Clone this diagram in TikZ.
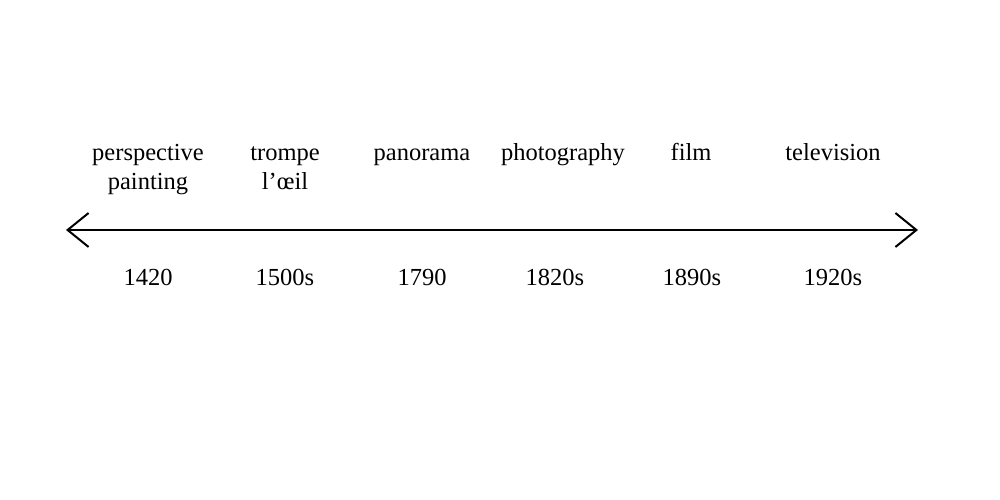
\documentclass[tikz,border=0pt]{standalone}
\usepackage{fontspec}
\setmainfont{Liberation Serif}
\usetikzlibrary{arrows.meta}
\begin{document}
\begin{tikzpicture}[x=1pt,y=1pt,
  lbl/.style={inner sep=0pt, align=center, anchor=base, font=\fontsize{24.5}{29}\selectfont},
  axis/.style={line width=2pt, {Straight Barb[length=21pt,width=34pt]}-{Straight Barb[length=21pt,width=34pt]}}]
\useasboundingbox (0,0) rectangle (1000,500);
\coordinate (L) at (66,270);
\coordinate (R) at (918,270);
\draw[axis] (L) -- (R);
\node[lbl] (t1) at (148,310) {perspective\\painting};
\node[lbl] (t2) at (285,310) {trompe\\l’œil};
\node[lbl] (t3) at (422,339) {panorama};
\node[lbl] (t4) at (563,339) {photography};
\node[lbl] (t5) at (691,339) {film};
\node[lbl] (t6) at (833,339) {television};
\node[lbl] (y1) at (148,214) {1420};
\node[lbl] (y2) at (285,214) {1500s};
\node[lbl] (y3) at (422,214) {1790};
\node[lbl] (y4) at (555,214) {1820s};
\node[lbl] (y5) at (692,214) {1890s};
\node[lbl] (y6) at (833,214) {1920s};
\end{tikzpicture}
\end{document}
